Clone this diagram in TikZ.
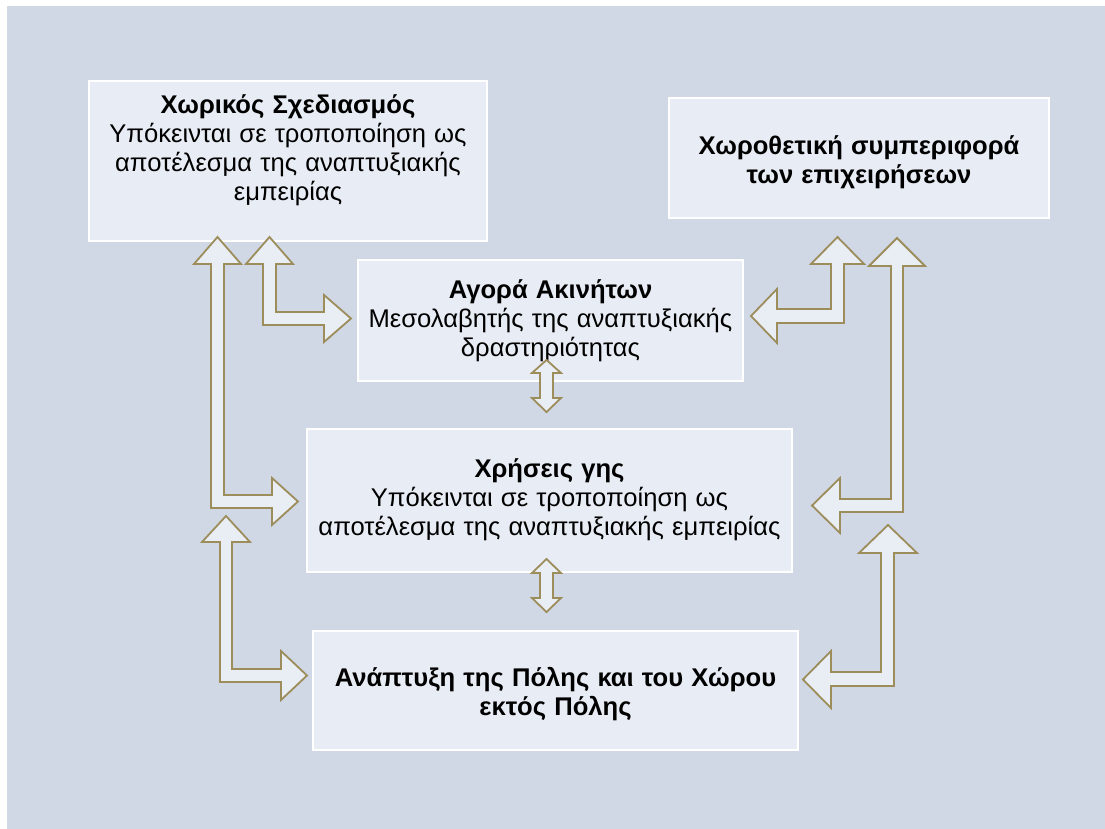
\documentclass[tikz,border=0pt]{standalone}
\usepackage{fontspec}
\setmainfont{Liberation Sans}[WordSpace=1.15]
\definecolor{bg}{RGB}{208,216,230}
\definecolor{boxfill}{RGB}{232,236,244}
\definecolor{arrowline}{RGB}{157,141,91}
\definecolor{arrowfill}{RGB}{233,237,244}
\begin{document}
\begin{tikzpicture}[x=1pt,y=-1pt,
  box/.style={draw=white, line width=1.5pt, fill=boxfill, inner sep=0pt},
  txt/.style={align=center, font=\fontsize{25.6}{29}\selectfont, text=black, inner sep=0pt},
  blockarrow/.style={draw=arrowline, fill=arrowfill, line width=1.8pt, line join=miter}]
\useasboundingbox (0,0) rectangle (1105,829);
\fill[white] (0,0) rectangle (1105,829);
\fill[bg] (7,6) rectangle (1105,829);
% boxes
\node[box, minimum width=398pt, minimum height=160pt] (b1) at (288,161) {};
\node[box, minimum width=380pt, minimum height=120pt] (b2) at (859,158) {};
\node[box, minimum width=385pt, minimum height=121pt] (b3) at (550.5,320.5) {};
\node[box, minimum width=485pt, minimum height=143pt] (b4) at (549.5,500.5) {};
\node[box, minimum width=485pt, minimum height=119pt] (b5) at (555.5,690.5) {};
% texts
\node[txt] (t1) at (288,150) {\textbf{Χωρικός Σχεδιασμός}\\Υπόκεινται σε τροποποίηση ως\\αποτέλεσμα της αναπτυξιακής\\εμπειρίας};
\node[txt] (t2) at (859,162) {\textbf{Χωροθετική συμπεριφορά}\\\textbf{των επιχειρήσεων}};
\node[txt] (t3) at (550.5,321) {\textbf{Αγορά Ακινήτων}\\Μεσολαβητής της αναπτυξιακής\\δραστηριότητας};
\node[txt] (t4) at (549.5,500) {\textbf{Χρήσεις γης}\\Υπόκεινται σε τροποποίηση ως\\αποτέλεσμα της αναπτυξιακής εμπειρίας};
\node[txt] (t5) at (555.5,694) {\textbf{Ανάπτυξη της Πόλης και του Χώρου}\\\textbf{εκτός Πόλης}};
% block arrows
% b1 <-> b4 (left long)
\draw[blockarrow] (217.5,237) -- (241,264) -- (224,264) -- (224,495) -- (272,495) -- (272,478) -- (298,501.5) -- (272,525) -- (272,508) -- (211,508) -- (211,264) -- (194,264) -- cycle;
% b1 <-> b3
\draw[blockarrow] (269.5,237) -- (293,264) -- (276,264) -- (276,312) -- (324,312) -- (324,295) -- (351,318.5) -- (324,342) -- (324,325) -- (263,325) -- (263,264) -- (246,264) -- cycle;
% b4 <-> b5 (left)
\draw[blockarrow] (226,516) -- (250,542) -- (232,542) -- (232,669) -- (281,669) -- (281,651) -- (307,675.5) -- (281,700) -- (281,682) -- (220,682) -- (220,542) -- (202,542) -- cycle;
% b2 <-> b3
\draw[blockarrow] (837.5,237) -- (864,264) -- (844,264) -- (844,323) -- (777,323) -- (777,343) -- (751,316) -- (777,289) -- (777,309) -- (831,309) -- (831,264) -- (811,264) -- cycle;
% b2 <-> b4
\draw[blockarrow] (897,238) -- (925,266) -- (903,266) -- (903,512) -- (840,512) -- (840,533) -- (812,505.5) -- (840,478) -- (840,499) -- (891,499) -- (891,266) -- (869,266) -- cycle;
% b4 <-> b5 (right)
\draw[blockarrow] (888,525) -- (917,553) -- (894,553) -- (894,686) -- (831,686) -- (831,708) -- (803,679.5) -- (831,651) -- (831,672) -- (881,672) -- (881,553) -- (859,553) -- cycle;
% b3 <-> b4
\draw[blockarrow] (546.5,360) -- (561,373) -- (553,373) -- (553,398) -- (561,398) -- (546.5,412) -- (532,398) -- (540,398) -- (540,373) -- (532,373) -- cycle;
% b4 <-> b5
\draw[blockarrow] (546.5,559) -- (561,573) -- (553,573) -- (553,598) -- (561,598) -- (546.5,612) -- (532,598) -- (540,598) -- (540,573) -- (532,573) -- cycle;
\end{tikzpicture}
\end{document}
